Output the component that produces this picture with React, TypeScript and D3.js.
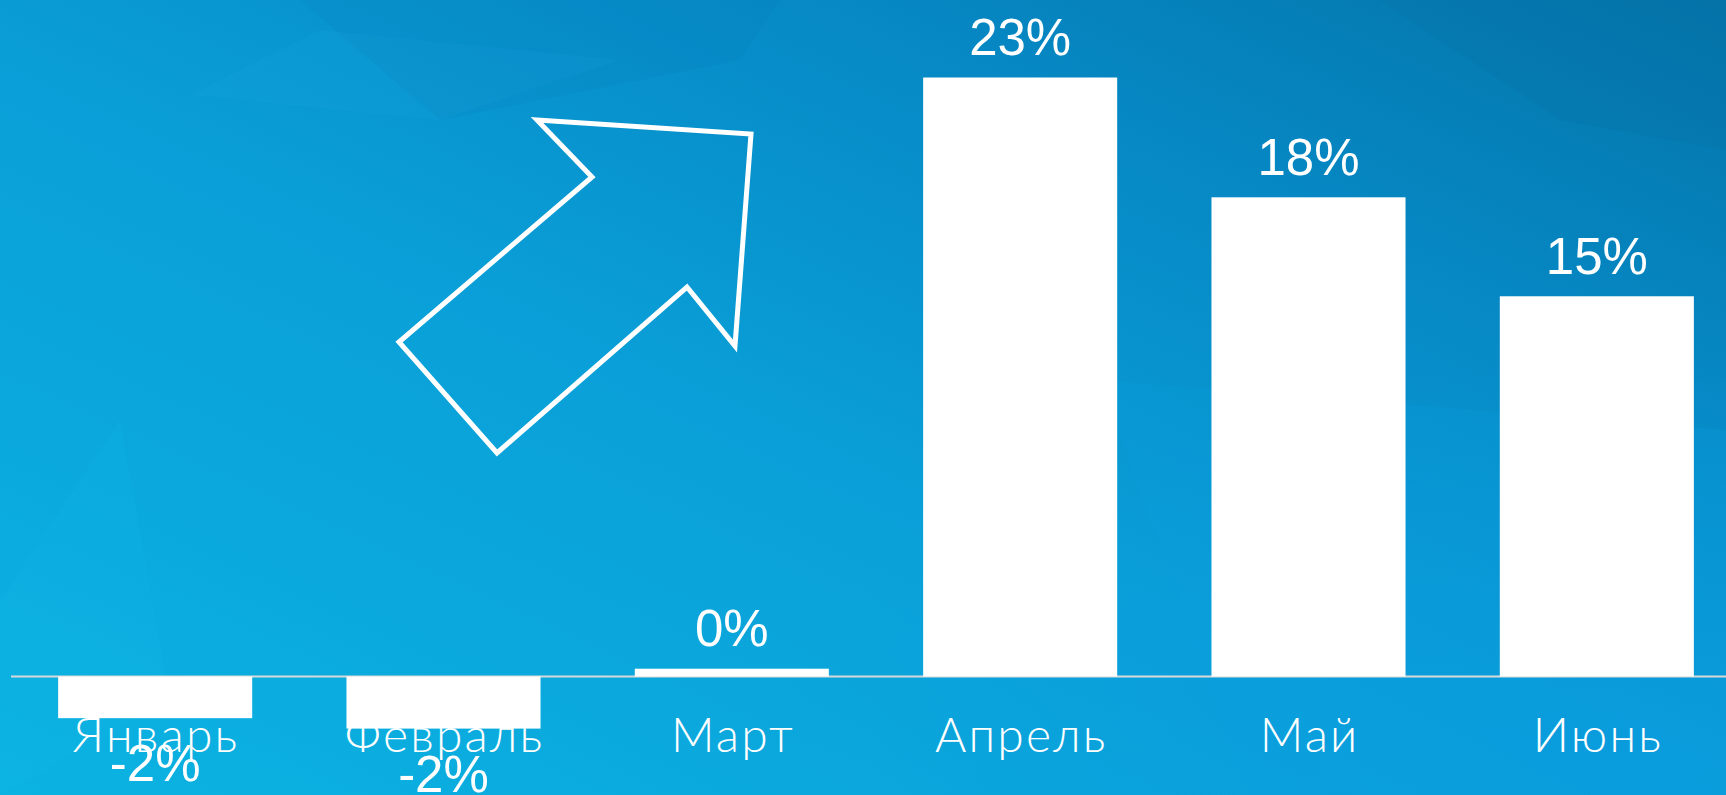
import React from "react";
import * as d3 from "d3";

const months = ["Январь", "Февраль", "Март", "Апрель", "Май", "Июнь"];
const values = [-1.6, -2.0, 0.3, 23.0, 18.4, 14.6];

const W = 1726;
const H = 795;

const arrowPoints: [number, number][] = [
  [537, 120],
  [751, 134],
  [735, 346],
  [687, 287],
  [497, 453],
  [399, 342],
  [592, 177],
];

const facets: { pts: [number, number][]; fill: string; op: number }[] = [
  { pts: [[190, 95], [440, 120], [620, 60], [320, 30]], fill: "#1aa6e0", op: 0.18 },
  { pts: [[300, 0], [780, 0], [740, 60], [440, 120]], fill: "#0578b8", op: 0.15 },
  { pts: [[120, 420], [170, 700], [0, 795], [0, 600]], fill: "#12bde8", op: 0.15 },
  { pts: [[1380, 0], [1726, 0], [1726, 150], [1560, 120]], fill: "#036ea3", op: 0.2 },
  { pts: [[1100, 380], [1726, 430], [1726, 795], [1250, 795]], fill: "#0aa0e0", op: 0.2 },
];

export default function App() {
  const x = d3
    .scaleBand<string>()
    .domain(months)
    .range([11, 1741])
    .paddingInner(0.327)
    .paddingOuter(0.1635);

  const y = d3.scaleLinear().domain([-2, 23]).range([728.6, 77.5]);

  const y0 = y(0);
  const fmt = (v: number) => `${Math.round(v)}%`;
  const line = d3.line();

  return (
    <>
      <style>{"body{margin:0;overflow:hidden}"}</style>
      <svg width={W} height={H} style={{ display: "block" }}>
        <defs>
          <linearGradient id="bg" x1="0" y1="1" x2="1" y2="0">
            <stop offset="0%" stopColor="#0bb3e2" />
            <stop offset="45%" stopColor="#0a9fd8" />
            <stop offset="75%" stopColor="#0688c4" />
            <stop offset="100%" stopColor="#0474a8" />
          </linearGradient>
          <radialGradient id="glow" cx="0.95" cy="0.95" r="0.5">
            <stop offset="0%" stopColor="#0a9ce0" stopOpacity={0.6} />
            <stop offset="100%" stopColor="#0a9ce0" stopOpacity={0} />
          </radialGradient>
        </defs>
        <rect x={0} y={0} width={W} height={H} fill="url(#bg)" />
        <rect x={0} y={0} width={W} height={H} fill="url(#glow)" />
        {facets.map((f, i) => (
          <path key={i} d={line(f.pts)! + "Z"} fill={f.fill} opacity={f.op} />
        ))}

        <line x1={11} x2={W} y1={y0} y2={y0} stroke="#d9d9d9" strokeWidth={2} />

        {months.map((m) => (
          <text
            key={m}
            x={x(m)! + x.bandwidth() / 2 + 1.1}
            y={751.5}
            textAnchor="middle"
            fill="#ffffff"
            fontFamily="Lato, 'Open Sans', sans-serif"
            fontWeight={300}
            fontSize={48}
            letterSpacing={2.2}
          >
            {m}
          </text>
        ))}

        {months.map((m, i) => {
          const v = values[i];
          const top = Math.min(y(v), y0);
          const h = Math.abs(y(v) - y0);
          return (
            <rect
              key={m}
              x={x(m)!}
              y={top}
              width={x.bandwidth()}
              height={h}
              fill="#ffffff"
            />
          );
        })}

        {months.map((m, i) => {
          const v = values[i];
          const cx = x(m)! + x.bandwidth() / 2;
          const ty = v >= 0 ? y(v) - 22.5 : y(v) + 63;
          return (
            <text
              key={m}
              x={cx}
              y={ty}
              textAnchor="middle"
              fill="#ffffff"
              fontFamily="'Liberation Sans', Arial, sans-serif"
              fontSize={51}
            >
              {fmt(v)}
            </text>
          );
        })}

        <path
          d={line(arrowPoints)! + "Z"}
          fill="none"
          stroke="#ffffff"
          strokeWidth={5}
          strokeLinejoin="miter"
        />
      </svg>
    </>
  );
}
